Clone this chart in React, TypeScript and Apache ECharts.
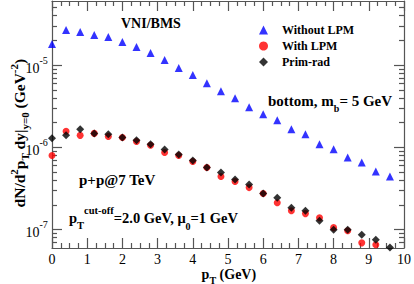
import React, { useEffect, useRef } from 'react';
import * as echarts from 'echarts';

// ---- data ----
const pT = [0, 0.4, 0.8, 1.2, 1.6, 2.0, 2.4, 2.8, 3.2, 3.6, 4.0, 4.4, 4.8, 5.2, 5.6, 6.0, 6.4, 6.8, 7.2, 7.6, 8.0, 8.4, 8.8, 9.2, 9.6];
const withoutLPM = [1.80e-5, 2.67e-5, 2.52e-5, 2.32e-5, 2.19e-5, 1.91e-5, 1.66e-5, 1.40e-5, 1.15e-5, 9.2e-6, 7.55e-6, 6.03e-6, 4.82e-6, 3.96e-6, 3.08e-6, 2.52e-6, 2.13e-6, 1.66e-6, 1.44e-6, 1.09e-6, 9.5e-7, 7.55e-7, 6.56e-7, 5.10e-7, 4.43e-7];
const withLPM: (number | null)[] = [7.98e-7, 1.57e-6, 1.40e-6, 1.48e-6, 1.36e-6, 1.32e-6, 1.18e-6, 1.06e-6, 8.69e-7, 7.98e-7, 6.75e-7, 5.70e-7, 4.43e-7, 3.85e-7, 3.25e-7, 2.75e-7, 2.13e-7, 1.70e-7, 1.57e-7, 1.40e-7, 1.06e-7, 9.7e-8, 6.93e-8, 6.56e-8, null];
const primRad = [1.29e-6, 1.40e-6, 1.66e-6, 1.48e-6, 1.44e-6, 1.32e-6, 1.22e-6, 1.09e-6, 9.46e-7, 8.22e-7, 6.94e-7, 5.70e-7, 4.95e-7, 4.07e-7, 3.54e-7, 2.75e-7, 2.45e-7, 1.85e-7, 1.70e-7, 1.29e-7, 1.00e-7, 1.00e-7, 8.7e-8, 7.55e-8, 6.1e-8];
const seriesNames = ['Without LPM', 'With LPM', 'Prim-rad'];
const yMajorExponents = [-7, -6, -5];
const yRange = [6e-8, 6e-5];
const xRange = [0, 10];

const FONT = "'Liberation Serif', 'Times New Roman', serif";
const AXIS_COLOR = '#555';

function toLog(arr: (number | null)[]) {
  return arr.map((v, i) => (v == null ? [pT[i], '-'] : [pT[i], Math.log10(v)]));
}

export default function App() {
  const ref = useRef<HTMLDivElement>(null);
  useEffect(() => {
    if (!ref.current) return;
    const chart = echarts.init(ref.current, null, { renderer: 'svg' });
    const yMin = Math.log10(yRange[0]);
    const yMax = Math.log10(yRange[1]);
    const minorY: number[] = [];
    for (let e = -8; e <= -5; e++) {
      for (let k = 2; k <= 9; k++) {
        const v = Math.log10(k) + e;
        if (v > yMin && v < yMax) minorY.push(v);
      }
    }
    const lineStyle = { color: AXIS_COLOR, width: 1.2 };
    const yBase = {
      type: 'value', min: yMin, max: yMax, splitLine: { show: false },
    };
    const xBase = {
      type: 'value', min: xRange[0], max: xRange[1], interval: 1,
      axisLine: { show: true, lineStyle },
      axisTick: { show: true, inside: true, length: 10, lineStyle },
      minorTick: { show: true, splitNumber: 4, length: 5, lineStyle },
      splitLine: { show: false }, minorSplitLine: { show: false },
    };
    const bold = (size: number, extra: any = {}) => ({
      fontFamily: FONT, fontWeight: 'bold', fontSize: size, fill: '#000', color: '#000', ...extra,
    });
    chart.setOption({
      animation: false,
      backgroundColor: '#fff',
      grid: { left: 52, right: 9, top: 1, bottom: 36, containLabel: false },
      xAxis: [
        {
          ...xBase, position: 'bottom',
          axisLabel: { show: true, fontFamily: FONT, fontSize: 14, color: '#000', margin: 4 },
        },
        { ...xBase, position: 'top', axisLabel: { show: false } },
      ],
      yAxis: [
        {
          ...yBase, position: 'left',
          axisLine: { show: true, lineStyle },
          axisTick: { show: true, inside: true, length: 10, lineStyle, customValues: yMajorExponents },
          axisLabel: {
            show: true, margin: 4, customValues: yMajorExponents,
            formatter: (v: number) => {
              const e = Math.round(v);
              if (Math.abs(v - e) > 1e-6) return '';
              return '{b|10}{s|' + e + '}{h| }';
            },
            rich: {
              b: { fontFamily: FONT, fontSize: 14, color: '#000', lineHeight: 14, verticalAlign: 'bottom' },
              s: { fontFamily: FONT, fontSize: 10, color: '#000', lineHeight: 10, verticalAlign: 'top' },
              h: { fontSize: 1, lineHeight: 20 },
            },
          },
        },
        {
          ...yBase, position: 'left',
          axisLine: { show: false },
          axisTick: { show: true, inside: true, length: 5, lineStyle, customValues: minorY },
          axisLabel: { show: false },
        },
        {
          ...yBase, position: 'right',
          axisLine: { show: true, lineStyle },
          axisTick: { show: true, inside: true, length: 10, lineStyle, customValues: yMajorExponents },
          axisLabel: { show: false },
        },
        {
          ...yBase, position: 'right',
          axisLine: { show: false },
          axisTick: { show: true, inside: true, length: 5, lineStyle, customValues: minorY },
          axisLabel: { show: false },
        },
      ],
      legend: {
        data: seriesNames,
        orient: 'vertical', left: 259, top: 24, padding: 0,
        itemWidth: 9, itemHeight: 9, itemGap: 4,
        textStyle: { fontFamily: FONT, fontWeight: 'bold', fontSize: 12, color: '#000', padding: [0, 0, 0, 9] },
      },
      series: [
        {
          name: seriesNames[0], type: 'scatter', symbol: 'triangle', symbolSize: 8,
          itemStyle: { color: '#0000ff' }, data: toLog(withoutLPM), xAxisIndex: 0, yAxisIndex: 0,
        },
        {
          name: seriesNames[1], type: 'scatter', symbol: 'circle', symbolSize: 7,
          itemStyle: { color: '#ff0000' }, data: toLog(withLPM), xAxisIndex: 0, yAxisIndex: 0,
        },
        {
          name: seriesNames[2], type: 'scatter', symbol: 'diamond', symbolSize: 8,
          itemStyle: { color: '#000000' }, data: toLog(primRad), xAxisIndex: 0, yAxisIndex: 0,
        },
      ],
      graphic: [
        {
          type: 'text', x: 121, y: 23,
          style: { text: 'VNI/BMS', ...bold(14), align: 'left', verticalAlign: 'middle' },
        },
        {
          type: 'text', x: 268, y: 103,
          style: {
            text: '{t|bottom, m}{sb|b}{t|= 5 GeV}{h| }', align: 'left', verticalAlign: 'middle',
            rich: {
              t: bold(15, { lineHeight: 14, verticalAlign: 'top' }),
              sb: bold(10, { lineHeight: 10, verticalAlign: 'bottom' }),
              h: { fontSize: 1, lineHeight: 20 },
            },
          },
        },
        {
          type: 'text', x: 79, y: 180,
          style: { text: 'p+p@7 TeV', ...bold(15), align: 'left', verticalAlign: 'middle' },
        },
        {
          type: 'text', x: 69, y: 218,
          style: {
            text: '{m|p}{sb|T}{sp|cut-off}{m|=2.0 GeV, μ}{sb2|0}{m|=1 GeV}{h| }',
            align: 'left', verticalAlign: 'middle',
            rich: {
              m: bold(14.5, { lineHeight: 14, verticalAlign: 'middle' }),
              sb: bold(10.5, { lineHeight: 10, verticalAlign: 'bottom' }),
              sb2: bold(10, { lineHeight: 18, verticalAlign: 'bottom' }),
              sp: bold(10.5, { lineHeight: 10, verticalAlign: 'top' }),
              h: { fontSize: 1, lineHeight: 26 },
            },
          },
        },
        {
          type: 'text', x: 229, y: 276,
          style: {
            text: '{m|p}{sb|T}{m| (GeV)}{h| }', align: 'center', verticalAlign: 'middle',
            rich: {
              m: bold(14, { lineHeight: 14, verticalAlign: 'top' }),
              sb: bold(10, { lineHeight: 10, verticalAlign: 'bottom' }),
              h: { fontSize: 1, lineHeight: 18 },
            },
          },
        },
        {
          type: 'text', x: 19, y: 133, rotation: Math.PI / 2,
          style: {
            text: '{m|dN/d}{sp|2}{m|p}{sb|T}{m| dy|}{sb|y=0}{m| (GeV}{sp|-2}{m|)}{h| }',
            align: 'center', verticalAlign: 'middle',
            rich: {
              m: bold(15.5, { lineHeight: 16, verticalAlign: 'middle' }),
              sb: bold(11, { lineHeight: 10, verticalAlign: 'bottom' }),
              sp: bold(11, { lineHeight: 10, verticalAlign: 'top' }),
              h: { fontSize: 1, lineHeight: 22 },
            },
          },
        },
      ],
    });
    return () => chart.dispose();
  }, []);
  return (
    <div
      ref={ref}
      style={{ position: 'absolute', left: 0, top: 0, width: 414, height: 284, background: '#fff' }}
    />
  );
}
